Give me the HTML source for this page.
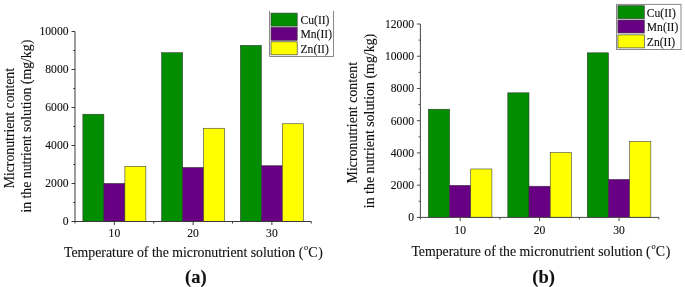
<!DOCTYPE html>
<html><head><meta charset="utf-8"><style>
html,body{margin:0;padding:0;background:#fff;}
svg{display:block;will-change:transform;}
text{font-family:"Liberation Serif", serif;fill:#111;stroke:#111;stroke-width:0.12px;}
</style></head><body>
<svg width="685" height="287" viewBox="0 0 685 287">
<rect width="685" height="287" fill="#fff"/>
<rect x="82.88" y="114.23" width="21.00" height="107.27" fill="#008e00" stroke="#333" stroke-width="0.55"/>
<rect x="103.88" y="183.41" width="21.00" height="38.09" fill="#680084" stroke="#333" stroke-width="0.55"/>
<rect x="124.88" y="166.34" width="21.00" height="55.16" fill="#ffff00" stroke="#333" stroke-width="0.55"/>
<rect x="161.62" y="52.67" width="21.00" height="168.83" fill="#008e00" stroke="#333" stroke-width="0.55"/>
<rect x="182.62" y="167.41" width="21.00" height="54.09" fill="#680084" stroke="#333" stroke-width="0.55"/>
<rect x="203.62" y="128.25" width="21.00" height="93.25" fill="#ffff00" stroke="#333" stroke-width="0.55"/>
<rect x="240.38" y="45.35" width="21.00" height="176.15" fill="#008e00" stroke="#333" stroke-width="0.55"/>
<rect x="261.38" y="165.74" width="21.00" height="55.76" fill="#680084" stroke="#333" stroke-width="0.55"/>
<rect x="282.38" y="123.76" width="21.00" height="97.74" fill="#ffff00" stroke="#333" stroke-width="0.55"/>
<line x1="75.00" y1="31.50" x2="75.00" y2="221.50" stroke="#3a3a3a" stroke-width="1"/>
<line x1="74.50" y1="221.50" x2="311.25" y2="221.50" stroke="#3a3a3a" stroke-width="1"/>
<line x1="75.00" y1="221.50" x2="75.00" y2="223.50" stroke="#3a3a3a" stroke-width="1"/>
<line x1="153.75" y1="221.50" x2="153.75" y2="223.50" stroke="#3a3a3a" stroke-width="1"/>
<line x1="232.50" y1="221.50" x2="232.50" y2="223.50" stroke="#3a3a3a" stroke-width="1"/>
<line x1="311.25" y1="221.50" x2="311.25" y2="223.50" stroke="#3a3a3a" stroke-width="1"/>
<line x1="71.50" y1="221.50" x2="75.00" y2="221.50" stroke="#3a3a3a" stroke-width="1"/>
<text x="68.50" y="225.30" text-anchor="end" font-size="11.6">0</text>
<line x1="71.50" y1="183.50" x2="75.00" y2="183.50" stroke="#3a3a3a" stroke-width="1"/>
<text x="68.50" y="187.30" text-anchor="end" font-size="11.6">2000</text>
<line x1="71.50" y1="145.50" x2="75.00" y2="145.50" stroke="#3a3a3a" stroke-width="1"/>
<text x="68.50" y="149.30" text-anchor="end" font-size="11.6">4000</text>
<line x1="71.50" y1="107.50" x2="75.00" y2="107.50" stroke="#3a3a3a" stroke-width="1"/>
<text x="68.50" y="111.30" text-anchor="end" font-size="11.6">6000</text>
<line x1="71.50" y1="69.50" x2="75.00" y2="69.50" stroke="#3a3a3a" stroke-width="1"/>
<text x="68.50" y="73.30" text-anchor="end" font-size="11.6">8000</text>
<line x1="71.50" y1="31.50" x2="75.00" y2="31.50" stroke="#3a3a3a" stroke-width="1"/>
<text x="68.50" y="35.30" text-anchor="end" font-size="11.6">10000</text>
<line x1="73.20" y1="202.50" x2="75.00" y2="202.50" stroke="#3a3a3a" stroke-width="1"/>
<line x1="73.20" y1="164.50" x2="75.00" y2="164.50" stroke="#3a3a3a" stroke-width="1"/>
<line x1="73.20" y1="126.50" x2="75.00" y2="126.50" stroke="#3a3a3a" stroke-width="1"/>
<line x1="73.20" y1="88.50" x2="75.00" y2="88.50" stroke="#3a3a3a" stroke-width="1"/>
<line x1="73.20" y1="50.50" x2="75.00" y2="50.50" stroke="#3a3a3a" stroke-width="1"/>
<line x1="114.38" y1="221.50" x2="114.38" y2="225.10" stroke="#3a3a3a" stroke-width="1"/>
<text x="114.38" y="236.80" text-anchor="middle" font-size="11.6">10</text>
<line x1="193.12" y1="221.50" x2="193.12" y2="225.10" stroke="#3a3a3a" stroke-width="1"/>
<text x="193.12" y="236.80" text-anchor="middle" font-size="11.6">20</text>
<line x1="271.88" y1="221.50" x2="271.88" y2="225.10" stroke="#3a3a3a" stroke-width="1"/>
<text x="271.88" y="236.80" text-anchor="middle" font-size="11.6">30</text>
<text transform="translate(14.20,128.15) rotate(-90)" text-anchor="middle" font-size="13.78">Micronutrient content</text>
<text transform="translate(31.20,126.20) rotate(-90)" text-anchor="middle" font-size="13.78">in the nutrient solution (mg/kg)</text>
<text x="64.00" y="256.60" font-size="13.8">Temperature of the micronutrient solution (<tspan font-size="8.5" dx="0.8" dy="-6.6">o</tspan><tspan dy="6.6">C</tspan><tspan dx="0.8">)</tspan></text>
<text x="195.80" y="282.70" text-anchor="middle" font-size="18.5" font-weight="bold">(a)</text>
<path d="M269.50,11.00 V56.50 H333.50 V11.00" fill="#fff" stroke="#888" stroke-width="1"/>
<rect x="271.00" y="13.10" width="26.20" height="13.00" fill="#008e00" stroke="#444" stroke-width="0.7"/>
<text x="300.50" y="23.90" font-size="11.6">Cu(II)</text>
<rect x="271.00" y="27.30" width="26.20" height="13.00" fill="#680084" stroke="#444" stroke-width="0.7"/>
<text x="300.50" y="38.10" font-size="11.6">Mn(II)</text>
<rect x="271.00" y="41.80" width="26.20" height="13.00" fill="#ffff00" stroke="#444" stroke-width="0.7"/>
<text x="300.50" y="52.60" font-size="11.6">Zn(II)</text>
<rect x="428.35" y="109.21" width="21.19" height="108.19" fill="#008e00" stroke="#333" stroke-width="0.55"/>
<rect x="449.54" y="185.33" width="21.19" height="32.07" fill="#680084" stroke="#333" stroke-width="0.55"/>
<rect x="470.73" y="168.99" width="21.19" height="48.41" fill="#ffff00" stroke="#333" stroke-width="0.55"/>
<rect x="507.81" y="92.82" width="21.19" height="124.58" fill="#008e00" stroke="#333" stroke-width="0.55"/>
<rect x="529.00" y="186.21" width="21.19" height="31.19" fill="#680084" stroke="#333" stroke-width="0.55"/>
<rect x="550.20" y="152.66" width="21.19" height="64.74" fill="#ffff00" stroke="#333" stroke-width="0.55"/>
<rect x="587.28" y="52.83" width="21.19" height="164.57" fill="#008e00" stroke="#333" stroke-width="0.55"/>
<rect x="608.47" y="179.41" width="21.19" height="37.99" fill="#680084" stroke="#333" stroke-width="0.55"/>
<rect x="629.66" y="141.54" width="21.19" height="75.86" fill="#ffff00" stroke="#333" stroke-width="0.55"/>
<line x1="420.40" y1="24.00" x2="420.40" y2="217.40" stroke="#484848" stroke-width="1"/>
<line x1="419.90" y1="217.40" x2="658.80" y2="217.40" stroke="#484848" stroke-width="1"/>
<line x1="420.40" y1="217.40" x2="420.40" y2="219.40" stroke="#484848" stroke-width="1"/>
<line x1="499.87" y1="217.40" x2="499.87" y2="219.40" stroke="#484848" stroke-width="1"/>
<line x1="579.33" y1="217.40" x2="579.33" y2="219.40" stroke="#484848" stroke-width="1"/>
<line x1="658.80" y1="217.40" x2="658.80" y2="219.40" stroke="#484848" stroke-width="1"/>
<line x1="416.90" y1="217.40" x2="420.40" y2="217.40" stroke="#484848" stroke-width="1"/>
<text x="414.00" y="221.20" text-anchor="end" font-size="11.6">0</text>
<line x1="416.90" y1="185.17" x2="420.40" y2="185.17" stroke="#484848" stroke-width="1"/>
<text x="414.00" y="188.97" text-anchor="end" font-size="11.6">2000</text>
<line x1="416.90" y1="152.93" x2="420.40" y2="152.93" stroke="#484848" stroke-width="1"/>
<text x="414.00" y="156.73" text-anchor="end" font-size="11.6">4000</text>
<line x1="416.90" y1="120.70" x2="420.40" y2="120.70" stroke="#484848" stroke-width="1"/>
<text x="414.00" y="124.50" text-anchor="end" font-size="11.6">6000</text>
<line x1="416.90" y1="88.47" x2="420.40" y2="88.47" stroke="#484848" stroke-width="1"/>
<text x="414.00" y="92.27" text-anchor="end" font-size="11.6">8000</text>
<line x1="416.90" y1="56.23" x2="420.40" y2="56.23" stroke="#484848" stroke-width="1"/>
<text x="414.00" y="60.03" text-anchor="end" font-size="11.6">10000</text>
<line x1="416.90" y1="24.00" x2="420.40" y2="24.00" stroke="#484848" stroke-width="1"/>
<text x="414.00" y="27.80" text-anchor="end" font-size="11.6">12000</text>
<line x1="418.60" y1="201.28" x2="420.40" y2="201.28" stroke="#484848" stroke-width="1"/>
<line x1="418.60" y1="169.05" x2="420.40" y2="169.05" stroke="#484848" stroke-width="1"/>
<line x1="418.60" y1="136.82" x2="420.40" y2="136.82" stroke="#484848" stroke-width="1"/>
<line x1="418.60" y1="104.58" x2="420.40" y2="104.58" stroke="#484848" stroke-width="1"/>
<line x1="418.60" y1="72.35" x2="420.40" y2="72.35" stroke="#484848" stroke-width="1"/>
<line x1="418.60" y1="40.12" x2="420.40" y2="40.12" stroke="#484848" stroke-width="1"/>
<line x1="460.13" y1="217.40" x2="460.13" y2="221.00" stroke="#484848" stroke-width="1"/>
<text x="460.13" y="233.50" text-anchor="middle" font-size="11.6">10</text>
<line x1="539.60" y1="217.40" x2="539.60" y2="221.00" stroke="#484848" stroke-width="1"/>
<text x="539.60" y="233.50" text-anchor="middle" font-size="11.6">20</text>
<line x1="619.07" y1="217.40" x2="619.07" y2="221.00" stroke="#484848" stroke-width="1"/>
<text x="619.07" y="233.50" text-anchor="middle" font-size="11.6">30</text>
<text transform="translate(356.80,122.70) rotate(-90)" text-anchor="middle" font-size="13.9">Micronutrient content</text>
<text transform="translate(374.40,121.00) rotate(-90)" text-anchor="middle" font-size="13.9">in the nutrient solution (mg/kg)</text>
<text x="411.40" y="255.70" font-size="13.8">Temperature of the micronutrient solution (<tspan font-size="8.5" dx="0.8" dy="-6.6">o</tspan><tspan dy="6.6">C</tspan><tspan dx="0.8">)</tspan></text>
<text x="543.60" y="282.70" text-anchor="middle" font-size="18.5" font-weight="bold">(b)</text>
<rect x="616.50" y="4.40" width="64.50" height="45.10" fill="#fff" stroke="#888" stroke-width="1"/>
<rect x="617.90" y="5.70" width="26.40" height="13.00" fill="#008e00" stroke="#444" stroke-width="0.7"/>
<text x="646.80" y="16.50" font-size="11.6">Cu(II)</text>
<rect x="617.90" y="20.00" width="26.40" height="13.00" fill="#680084" stroke="#444" stroke-width="0.7"/>
<text x="646.80" y="30.80" font-size="11.6">Mn(II)</text>
<rect x="617.90" y="34.90" width="26.40" height="13.00" fill="#ffff00" stroke="#444" stroke-width="0.7"/>
<text x="646.80" y="45.70" font-size="11.6">Zn(II)</text>
</svg>
</body></html>
